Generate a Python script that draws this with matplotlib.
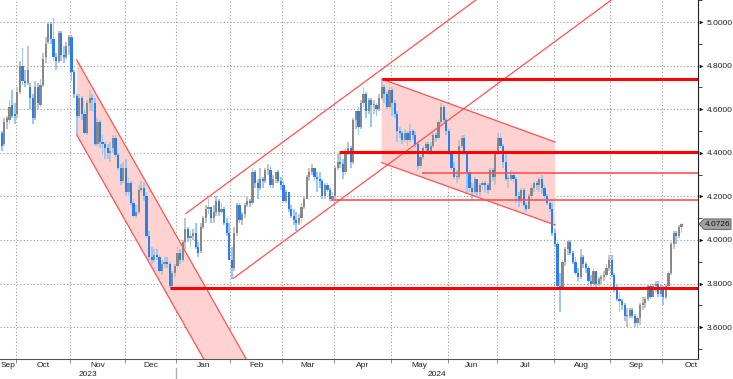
import numpy as np
import pandas as pd
import matplotlib
matplotlib.use("Agg")
import matplotlib.pyplot as plt
from matplotlib.patches import Polygon
from matplotlib.transforms import blended_transform_factory

plt.rcParams['font.family'] = ['Liberation Sans', 'DejaVu Sans']

# trading days (US bond market holidays removed)
holidays = ['2023-10-09', '2023-11-23', '2023-12-25', '2024-01-01', '2024-01-15',
            '2024-02-19', '2024-03-29', '2024-05-27', '2024-06-19', '2024-07-04',
            '2024-09-02']
dates = pd.bdate_range('2023-09-22', '2024-10-10', freq='C', holidays=holidays)

opens = [
    4.49, 4.44, 4.54, 4.55, 4.62, 4.58,
    4.58, 4.68, 4.80, 4.73, 4.72, 4.70, 4.65, 4.56, 4.70, 4.62, 4.71, 4.84, 4.91, 4.99, 4.92, 4.84, 4.82, 4.95, 4.85, 4.84, 4.89,
    4.93, 4.77, 4.66, 4.57, 4.65, 4.58, 4.49, 4.63, 4.65, 4.63, 4.44, 4.54, 4.45, 4.44, 4.42, 4.40, 4.42, 4.47, 4.39, 4.33, 4.27,
    4.33, 4.22, 4.26, 4.17, 4.11, 4.13, 4.23, 4.24, 4.20, 4.02, 3.92, 3.91, 3.93, 3.92, 3.86, 3.89, 3.90, 3.89, 3.79, 3.85,
    3.88, 3.94, 3.91, 3.99, 4.05, 4.01, 4.02, 4.03, 3.97, 3.95, 4.06, 4.10, 4.14, 4.15, 4.10, 4.13, 4.18, 4.13, 4.14, 4.08, 4.03,
    3.91, 3.87, 4.03, 4.16, 4.09, 4.12, 4.16, 4.18, 4.17, 4.31, 4.26, 4.24, 4.28, 4.27, 4.32, 4.32, 4.25, 4.28, 4.31, 4.27,
    4.25, 4.18, 4.22, 4.14, 4.11, 4.09, 4.08, 4.10, 4.15, 4.19, 4.29, 4.31, 4.33, 4.29, 4.28, 4.27, 4.20, 4.25, 4.23, 4.19,
    4.20, 4.33, 4.36, 4.35, 4.31, 4.40, 4.42, 4.36, 4.55, 4.59, 4.52, 4.63, 4.67, 4.59, 4.64, 4.62, 4.62, 4.60, 4.65, 4.70, 4.67, 4.61,
    4.69, 4.63, 4.58, 4.50, 4.49, 4.46, 4.49, 4.46, 4.50, 4.48, 4.44, 4.34, 4.38, 4.42, 4.44, 4.41, 4.43, 4.48, 4.47, 4.54, 4.61, 4.55,
    4.50, 4.40, 4.33, 4.29, 4.29, 4.43, 4.47, 4.40, 4.31, 4.24, 4.22, 4.28, 4.22, 4.25, 4.26, 4.25, 4.23, 4.32, 4.29,
    4.40, 4.47, 4.43, 4.36, 4.28, 4.28, 4.30, 4.28, 4.20, 4.18, 4.23, 4.16, 4.14, 4.20, 4.24, 4.26, 4.25, 4.28, 4.24, 4.20, 4.17, 4.14,
    4.03, 3.98, 3.79, 3.78, 3.90, 3.96, 3.99, 3.94, 3.90, 3.85, 3.83, 3.92, 3.89, 3.87, 3.81, 3.80, 3.86, 3.80, 3.82, 3.83, 3.84, 3.87,
    3.91, 3.84, 3.77, 3.73, 3.72, 3.70, 3.65, 3.65, 3.68, 3.65, 3.62, 3.64, 3.70, 3.71, 3.73, 3.79, 3.74, 3.79, 3.80, 3.75,
    3.78, 3.74, 3.79, 3.85, 3.98, 4.03, 4.02, 4.06,
]
highs = [
    4.50, 4.56, 4.57, 4.64, 4.69, 4.63,
    4.70, 4.82, 4.88, 4.78, 4.89, 4.72, 4.67, 4.73, 4.72, 4.74, 4.86, 4.93, 5.00, 5.00, 5.02, 4.86, 4.96, 4.96, 4.89, 4.91, 4.94,
    4.94, 4.78, 4.67, 4.67, 4.66, 4.60, 4.64, 4.69, 4.67, 4.65, 4.56, 4.55, 4.48, 4.45, 4.44, 4.45, 4.48, 4.48, 4.40, 4.35, 4.36,
    4.37, 4.29, 4.27, 4.19, 4.16, 4.25, 4.27, 4.26, 4.22, 4.04, 3.97, 3.96, 3.96, 3.93, 3.91, 3.92, 3.92, 3.90, 3.86, 3.89,
    3.97, 3.96, 4.00, 4.10, 4.06, 4.04, 4.05, 4.08, 3.99, 4.08, 4.11, 4.16, 4.19, 4.15, 4.16, 4.20, 4.19, 4.17, 4.15, 4.10, 4.08,
    3.97, 4.06, 4.17, 4.17, 4.13, 4.17, 4.20, 4.19, 4.33, 4.32, 4.28, 4.33, 4.29, 4.33, 4.35, 4.34, 4.30, 4.31, 4.32, 4.29,
    4.27, 4.23, 4.22, 4.16, 4.14, 4.13, 4.12, 4.17, 4.20, 4.30, 4.33, 4.35, 4.33, 4.31, 4.31, 4.28, 4.26, 4.26, 4.24, 4.22,
    4.34, 4.40, 4.40, 4.37, 4.42, 4.45, 4.43, 4.56, 4.59, 4.61, 4.64, 4.70, 4.68, 4.65, 4.65, 4.64, 4.63, 4.67, 4.74, 4.71, 4.68, 4.70,
    4.70, 4.64, 4.59, 4.52, 4.50, 4.51, 4.50, 4.53, 4.51, 4.50, 4.45, 4.39, 4.43, 4.45, 4.45, 4.45, 4.49, 4.49, 4.55, 4.63, 4.62, 4.56,
    4.51, 4.41, 4.36, 4.32, 4.46, 4.48, 4.48, 4.41, 4.32, 4.26, 4.29, 4.28, 4.26, 4.27, 4.27, 4.26, 4.33, 4.33, 4.40,
    4.49, 4.49, 4.44, 4.40, 4.30, 4.32, 4.31, 4.29, 4.22, 4.24, 4.24, 4.17, 4.21, 4.25, 4.27, 4.27, 4.29, 4.30, 4.25, 4.21, 4.18, 4.17,
    4.05, 3.99, 3.85, 3.91, 3.97, 4.00, 4.00, 3.95, 3.92, 3.87, 3.96, 3.93, 3.90, 3.88, 3.84, 3.87, 3.86, 3.83, 3.84, 3.86, 3.89, 3.93,
    3.93, 3.85, 3.80, 3.76, 3.73, 3.71, 3.69, 3.69, 3.69, 3.66, 3.65, 3.71, 3.74, 3.74, 3.80, 3.80, 3.80, 3.81, 3.81, 3.80,
    3.79, 3.80, 3.86, 3.99, 4.04, 4.04, 4.07, 4.08,
]
lows = [
    4.41, 4.43, 4.51, 4.53, 4.56, 4.53,
    4.56, 4.67, 4.71, 4.70, 4.71, 4.60, 4.53, 4.55, 4.60, 4.61, 4.70, 4.81, 4.90, 4.90, 4.82, 4.78, 4.81, 4.82, 4.81, 4.83, 4.85,
    4.73, 4.65, 4.48, 4.56, 4.55, 4.48, 4.48, 4.59, 4.59, 4.43, 4.43, 4.42, 4.39, 4.37, 4.37, 4.36, 4.40, 4.38, 4.32, 4.25, 4.26,
    4.20, 4.20, 4.16, 4.10, 4.10, 4.12, 4.22, 4.18, 4.01, 3.91, 3.89, 3.90, 3.91, 3.85, 3.84, 3.87, 3.87, 3.78, 3.78, 3.83,
    3.87, 3.89, 3.90, 3.96, 3.99, 3.97, 4.00, 3.96, 3.92, 3.94, 4.05, 4.08, 4.12, 4.08, 4.08, 4.11, 4.11, 4.12, 4.07, 4.02, 3.91,
    3.82, 3.86, 4.02, 4.08, 4.07, 4.10, 4.15, 4.15, 4.16, 4.24, 4.19, 4.23, 4.24, 4.26, 4.30, 4.24, 4.24, 4.26, 4.26, 4.23,
    4.17, 4.17, 4.13, 4.10, 4.07, 4.04, 4.07, 4.08, 4.14, 4.19, 4.27, 4.30, 4.27, 4.22, 4.24, 4.19, 4.19, 4.22, 4.18, 4.18,
    4.19, 4.32, 4.33, 4.28, 4.30, 4.39, 4.33, 4.35, 4.51, 4.48, 4.51, 4.61, 4.56, 4.58, 4.52, 4.58, 4.57, 4.59, 4.64, 4.63, 4.60, 4.60,
    4.57, 4.56, 4.45, 4.47, 4.44, 4.45, 4.43, 4.45, 4.46, 4.42, 4.32, 4.33, 4.37, 4.41, 4.40, 4.39, 4.42, 4.45, 4.46, 4.53, 4.54, 4.48,
    4.39, 4.32, 4.28, 4.26, 4.28, 4.42, 4.39, 4.21, 4.22, 4.19, 4.21, 4.20, 4.20, 4.23, 4.22, 4.21, 4.23, 4.27, 4.25,
    4.39, 4.42, 4.33, 4.27, 4.24, 4.27, 4.26, 4.17, 4.15, 4.17, 4.15, 4.13, 4.14, 4.19, 4.22, 4.23, 4.22, 4.21, 4.18, 4.16, 4.13, 4.02,
    3.97, 3.78, 3.67, 3.77, 3.88, 3.93, 3.93, 3.89, 3.84, 3.81, 3.82, 3.87, 3.85, 3.79, 3.77, 3.79, 3.78, 3.79, 3.80, 3.81, 3.83, 3.86,
    3.83, 3.76, 3.72, 3.67, 3.68, 3.63, 3.60, 3.64, 3.64, 3.60, 3.60, 3.61, 3.68, 3.69, 3.72, 3.73, 3.74, 3.76, 3.74, 3.74,
    3.70, 3.73, 3.77, 3.84, 3.96, 3.98, 4.01, 4.03,
]
closes = [
    4.43, 4.54, 4.56, 4.61, 4.57, 4.57,
    4.68, 4.80, 4.73, 4.72, 4.78, 4.65, 4.56, 4.70, 4.63, 4.71, 4.83, 4.90, 4.99, 4.92, 4.84, 4.82, 4.95, 4.85, 4.84, 4.89, 4.93,
    4.77, 4.67, 4.57, 4.65, 4.58, 4.49, 4.63, 4.65, 4.64, 4.44, 4.54, 4.45, 4.44, 4.42, 4.40, 4.41, 4.47, 4.39, 4.33, 4.27, 4.33,
    4.22, 4.26, 4.17, 4.11, 4.13, 4.23, 4.24, 4.20, 4.02, 3.92, 3.91, 3.93, 3.92, 3.86, 3.89, 3.90, 3.89, 3.79, 3.85, 3.88,
    3.94, 3.91, 3.99, 4.05, 4.01, 4.02, 4.03, 3.97, 3.94, 4.06, 4.10, 4.14, 4.15, 4.10, 4.13, 4.18, 4.13, 4.14, 4.08, 4.03, 3.91,
    3.87, 4.03, 4.16, 4.09, 4.12, 4.16, 4.18, 4.17, 4.31, 4.26, 4.24, 4.28, 4.27, 4.32, 4.32, 4.25, 4.28, 4.31, 4.27, 4.25,
    4.18, 4.22, 4.14, 4.11, 4.09, 4.08, 4.10, 4.15, 4.19, 4.29, 4.31, 4.33, 4.29, 4.28, 4.27, 4.20, 4.25, 4.23, 4.19, 4.20,
    4.33, 4.36, 4.35, 4.31, 4.40, 4.42, 4.36, 4.55, 4.59, 4.52, 4.63, 4.67, 4.59, 4.64, 4.62, 4.62, 4.60, 4.65, 4.70, 4.67, 4.61, 4.69,
    4.63, 4.58, 4.50, 4.49, 4.46, 4.49, 4.46, 4.50, 4.48, 4.44, 4.34, 4.38, 4.42, 4.44, 4.41, 4.43, 4.48, 4.47, 4.54, 4.61, 4.55, 4.50,
    4.40, 4.33, 4.29, 4.29, 4.43, 4.47, 4.40, 4.31, 4.24, 4.22, 4.28, 4.22, 4.25, 4.26, 4.25, 4.23, 4.32, 4.29, 4.40,
    4.47, 4.43, 4.36, 4.28, 4.28, 4.30, 4.28, 4.20, 4.18, 4.23, 4.16, 4.14, 4.20, 4.24, 4.26, 4.25, 4.28, 4.24, 4.20, 4.17, 4.14, 4.03,
    3.98, 3.79, 3.78, 3.90, 3.96, 3.99, 3.94, 3.90, 3.85, 3.83, 3.92, 3.89, 3.87, 3.81, 3.80, 3.86, 3.80, 3.82, 3.83, 3.84, 3.87, 3.91,
    3.84, 3.77, 3.73, 3.72, 3.70, 3.65, 3.65, 3.68, 3.65, 3.62, 3.64, 3.70, 3.71, 3.73, 3.79, 3.74, 3.79, 3.80, 3.75, 3.78,
    3.74, 3.79, 3.85, 3.98, 4.03, 4.02, 4.06, 4.0726,
]

# drawn levels
hlines_thick = [4.738, 4.403, 3.782]
hlines_thick_start = [147.0, 130.5, 65.1]
hlines_thin = [4.308, 4.182]
hlines_thin_start = [162.5, 127.4]

o = np.array(opens); h = np.array(highs); l = np.array(lows); c = np.array(closes)
x = np.arange(len(dates))

fig = plt.figure(figsize=(7.33, 3.79), dpi=100)
ax = fig.add_axes([0, 1 - 359 / 379, 698 / 733, 359 / 379])
xmin, xmax = -0.69, 269.4
ax.set_xlim(xmin, xmax)
ax.set_ylim(3.454, 5.101)

# grid
month_starts = [i for i in range(1, len(dates)) if dates[i].month != dates[i - 1].month]
bounds = [m - 0.5 for m in month_starts]
grid_kw = dict(color='#9a9a9a', lw=0.8, linestyle=(0, (1, 2)), zorder=0)
for b in bounds:
    ax.axvline(b, **grid_kw)
for yv in np.arange(3.6, 5.01, 0.2):
    ax.axhline(yv, **grid_kw)

# channels
pink = '#ffd2d2'
red_thin = '#ff5252'
s1 = -0.02092
x1a, x1b = 29.0, 130.0
ax.add_patch(Polygon([(x1a, 4.826), (x1b, 4.826 + s1 * (x1b - x1a)),
                      (x1b, 4.482 + s1 * (x1b - x1a)), (x1a, 4.482)],
                     closed=True, fc=pink, ec='none', zorder=1))
for y0 in (4.826, 4.482):
    ax.plot([x1a, x1b], [y0, y0 + s1 * (x1b - x1a)], color=red_thin, lw=0.9, zorder=5)

s2 = 0.00873
ax.plot([71.3, 300], [4.122, 4.122 + s2 * (300 - 71.3)], color=red_thin, lw=0.9, zorder=5)
ax.plot([89.6, 300], [3.824, 3.824 + s2 * (300 - 89.6)], color=red_thin, lw=0.9, zorder=5)

x3a, x3b = 147.0, 214.1
ax.add_patch(Polygon([(x3a, 4.7385), (x3b, 4.4495), (x3b, 4.0688), (x3a, 4.3546)],
                     closed=True, fc=pink, ec='none', zorder=1))
ax.plot([x3a, x3b], [4.7385, 4.4495], color=red_thin, lw=0.9, zorder=5)
ax.plot([x3a, x3b], [4.3546, 4.0688], color=red_thin, lw=0.9, zorder=5)

# candles
up = c >= o
wick_col = np.where(up, '#c4c4c4', '#96c8fb')
body_col = np.where(up, '#888888', '#2a7ef0')
ax.bar(x, h - l, bottom=l, width=0.7, color=wick_col, zorder=3)
ax.bar(x, np.maximum(np.abs(c - o), 0.004), bottom=np.minimum(o, c), width=0.85,
       color=body_col, zorder=4)

# horizontal levels
for yv, xs in zip(hlines_thick, hlines_thick_start):
    ax.plot([xs, xmax], [yv, yv], color='#ff0000', lw=2.2, zorder=6, solid_capstyle='butt')
for yv, xs in zip(hlines_thin, hlines_thin_start):
    ax.plot([xs, xmax], [yv, yv], color=red_thin, lw=1.2, zorder=6, solid_capstyle='butt')

# axes styling
for sp in ('left', 'top'):
    ax.spines[sp].set_visible(False)
ax.spines['right'].set_color('#222222')
ax.spines['bottom'].set_color('#555555')
ax.spines['right'].set_linewidth(0.8)
ax.spines['bottom'].set_linewidth(0.8)

ax.yaxis.tick_right()
major = np.arange(3.6, 5.01, 0.2)
ax.set_yticks(major)
ax.set_yticklabels(['%.4f' % v for v in major])
ax.set_yticks(np.arange(3.5, 5.11, 0.2), minor=True)
ax.tick_params(axis='y', which='major', length=0, pad=6, labelsize=6, labelcolor='#222222')
ax.tick_params(axis='y', which='minor', length=3, width=0.6, color='#222222', direction='out')
tr_y = blended_transform_factory(ax.transAxes, ax.transData)
ax.scatter([1.0045] * len(major), major, marker='>', s=7, color='#111111',
           transform=tr_y, clip_on=False, zorder=10, linewidths=0)

ax.set_xticks(bounds)
ax.set_xticklabels([])
ax.tick_params(axis='x', length=3, width=0.6, color='#777777', direction='out')

tr_x = blended_transform_factory(ax.transData, ax.transAxes)
month_names = [d.strftime('%b') for d in dates[[0] + month_starts]]
edges = [0] + month_starts + [len(dates)]
for k, name in enumerate(month_names):
    if k == len(month_names) - 1:
        ax.text(xmax - 0.2, -0.0175, name, transform=tr_x, ha='right', va='center',
                fontsize=6, color='#222222', clip_on=False)
    else:
        ax.text((edges[k] + edges[k + 1]) / 2 - 0.5, -0.0175, name, transform=tr_x,
                ha='center', va='center', fontsize=6, color='#222222', clip_on=False)

year_split = month_starts[3] - 0.5
ax.text((xmin + year_split) / 2, -0.043, '2023', transform=tr_x, ha='center', va='center',
        fontsize=6, color='#222222', clip_on=False)
ax.text((year_split + xmax) / 2, -0.043, '2024', transform=tr_x, ha='center', va='center',
        fontsize=6, color='#222222', clip_on=False)
ax.plot([year_split, year_split], [-0.025, -0.06], transform=tr_x, color='#b0b0b0',
        lw=1.0, clip_on=False)

# last price tag
last = closes[-1]
tr_f = blended_transform_factory(fig.transFigure, ax.transData)
hh = 0.024
tag = Polygon([(699 / 733, last), (704 / 733, last + hh), (731 / 733, last + hh),
               (731 / 733, last - hh), (704 / 733, last - hh)], closed=True,
              transform=tr_f, fc='#a0a0a0', ec='#555555', lw=0.6, clip_on=False, zorder=10)
fig.add_artist(tag)
fig.text(717.5 / 733, 0, '%.4f' % last, transform=tr_f, ha='center', va='center',
         fontsize=6, color='#111111', zorder=11).set_y(last)

fig.savefig('out.png', dpi=100)
